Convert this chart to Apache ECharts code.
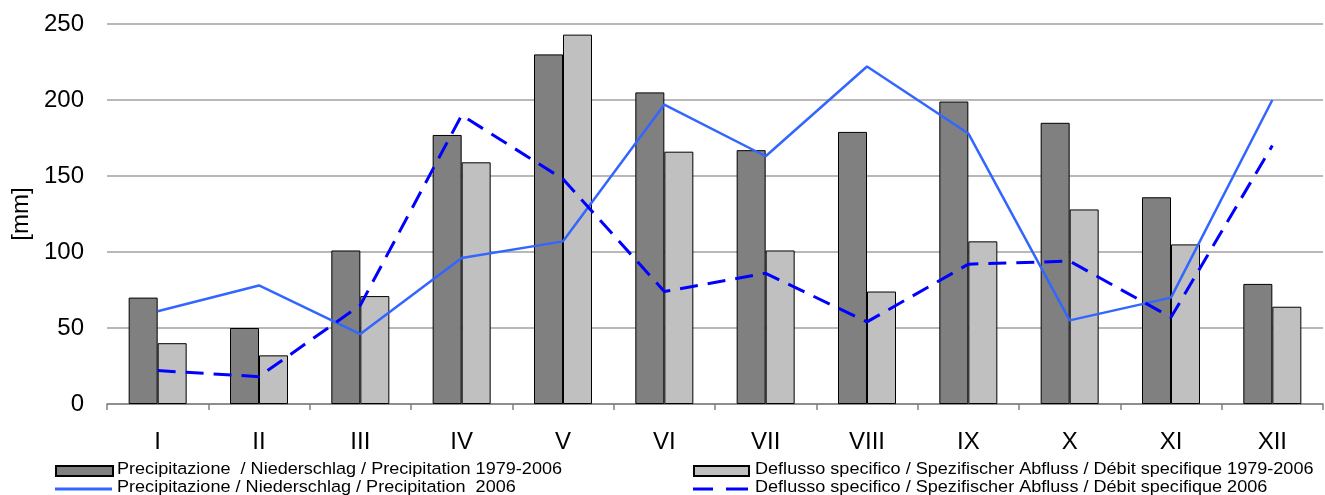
<!DOCTYPE html>
<html>
<head>
<meta charset="utf-8">
<script src="https://cdn.jsdelivr.net/npm/echarts@6/dist/echarts.min.js"></script>
<style>
  html, body { margin: 0; padding: 0; background: #fff; }
  #chart { width: 1325px; height: 495px; }
</style>
</head>
<body>
<div id="chart"></div>
<script>
// mesi
const months = ['I', 'II', 'III', 'IV', 'V', 'VI', 'VII', 'VIII', 'IX', 'X', 'XI', 'XII']
// precipitazione media 1979-2006
const precipMean = [70, 50, 101, 177, 230, 205, 167, 179, 199, 185, 136, 79]
// deflusso specifico medio 1979-2006
const runoffMean = [40, 32, 71, 159, 243, 166, 101, 74, 107, 128, 105, 64]
// precipitazione 2006
const precip2006 = [61, 78, 46, 96, 107, 197, 163, 222, 178, 55, 70, 200]
// deflusso specifico 2006
const runoff2006 = [22, 18, 65, 190, 148, 74, 86, 54, 92, 94, 57, 170]

const nPrecipMean = 'Precipitazione  / Niederschlag / Precipitation 1979-2006'
const nRunoffMean = 'Deflusso specifico / Spezifischer Abfluss / Débit specifique 1979-2006'
const nPrecip2006 = 'Precipitazione / Niederschlag / Precipitation  2006'
const nRunoff2006 = 'Deflusso specifico / Spezifischer Abfluss / Débit specifique 2006'

const chart = echarts.init(document.getElementById('chart'))
const font = 'Liberation Sans, Arial, sans-serif'

// una legenda per voce, il testo lo disegno a parte (l'originale e' stirato in larghezza)
function legendItem(name, left, top, h, icon, w) {
  return {
    left: left,
    top: top,
    padding: 0,
    itemWidth: w,
    itemHeight: h,
    icon: icon,
    formatter: () => '',
    selectedMode: false,
    data: [name],
  }
}

function legendText(text, x, y) {
  return {
    type: 'text',
    x: x,
    y: y,
    scaleX: 1.11,
    style: {
      text: text,
      fill: '#000',
      font: '16.3px Liberation Sans, Arial, sans-serif',
      verticalAlign: 'middle',
    },
  }
}

let option = {
  animation: false,
  backgroundColor: '#fff',
  grid: { left: 107, right: 2, top: 24, bottom: 91, outerBoundsMode: 'none' },
  legend: [
    legendItem(nPrecipMean, 55, 465, 10, 'rect', 57),
    legendItem(nPrecip2006, 55, 487.5, 3, 'rect', 57),
    legendItem(nRunoffMean, 693, 465, 10, 'rect', 55),
    legendItem(nRunoff2006, 693, 487.5, 3, 'path://M0,0H20V3H0Z M33,0H55V3H33Z', 55),
  ],
  graphic: [
    legendText(nPrecipMean, 117, 469.5),
    legendText(nPrecip2006, 117, 488),
    legendText(nRunoffMean, 755, 469.5),
    legendText(nRunoff2006, 755, 488),
  ],
  xAxis: {
    type: 'category',
    data: months,
    boundaryGap: true,
    axisLine: { lineStyle: { color: '#808080', width: 1.5 } },
    axisTick: { show: true, length: 6, lineStyle: { color: '#808080', width: 1.5 } },
    axisLabel: { color: '#000', fontSize: 24, fontFamily: font, margin: 26 },
  },
  yAxis: {
    type: 'value',
    min: 0,
    max: 250,
    interval: 50,
    name: '[mm]',
    nameLocation: 'middle',
    nameRotate: 90,
    nameGap: 74,
    nameTextStyle: { color: '#000', fontSize: 24, fontFamily: font },
    axisLine: { show: false },
    axisTick: { show: false },
    axisLabel: { color: '#000', fontSize: 24, fontFamily: font, margin: 23 },
    splitLine: { lineStyle: { color: '#a0a0a0', width: 1.5 } },
  },
  series: [
    {
      name: nPrecipMean,
      type: 'bar',
      barWidth: 29,
      barGap: '0%',
      itemStyle: { color: '#808080', borderColor: '#000', borderWidth: 1 },
      data: precipMean,
    },
    {
      name: nRunoffMean,
      type: 'bar',
      barWidth: 29,
      barGap: '0%',
      itemStyle: { color: '#c0c0c0', borderColor: '#000', borderWidth: 1 },
      data: runoffMean,
    },
    {
      name: nPrecip2006,
      type: 'line',
      symbol: 'none',
      z: 5,
      lineStyle: { color: '#3366ff', width: 2.5 },
      itemStyle: { color: '#3366ff' },
      data: precip2006,
    },
    {
      name: nRunoff2006,
      type: 'line',
      symbol: 'none',
      z: 5,
      lineStyle: { color: '#0000ff', width: 3, type: [18, 10] },
      itemStyle: { color: '#0000ff' },
      data: runoff2006,
    },
  ],
}

chart.setOption(option)
</script>
</body>
</html>
